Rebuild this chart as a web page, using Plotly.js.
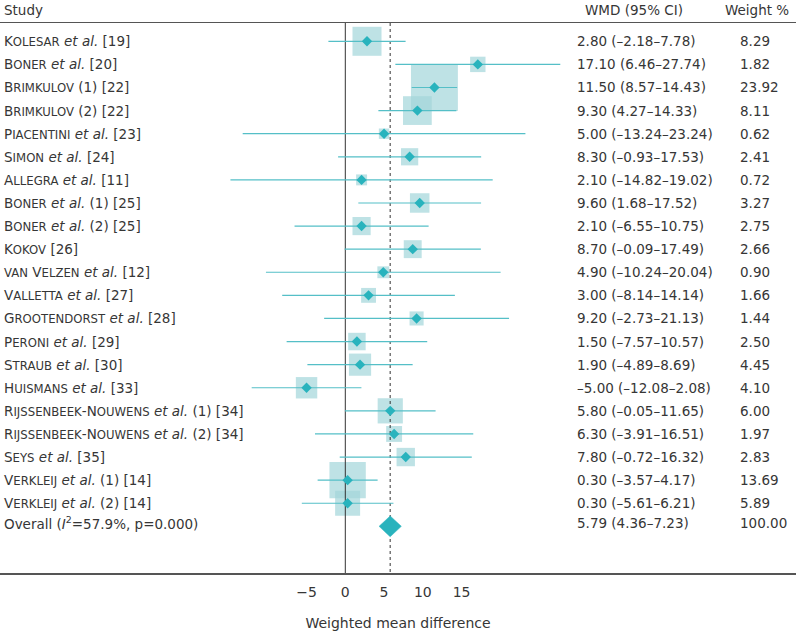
<!DOCTYPE html>
<html>
<head>
<meta charset="utf-8">
<script src="https://cdn.plot.ly/plotly-3.0.1.min.js"></script>
<style>html,body{margin:0;padding:0;background:#fff;}</style>
</head>
<body>
<div id="chart" style="width:796px;height:632px;"></div>
<script>
// ---- data ----
const authors = ["Kolesar","Boner","Brimkulov","Brimkulov","Piacentini","Simon","Allegra","Boner","Boner","Kokov","van Velzen","Valletta","Grootendorst","Peroni","Straub","Huismans","Rijssenbeek-Nouwens","Rijssenbeek-Nouwens","Seys","Verkleij","Verkleij"];
const etAl = [true,true,false,false,true,true,true,true,true,false,true,true,true,true,true,true,true,true,true,true,true];
const tails = [" [19]"," [20]"," (1) [22]"," (2) [22]"," [23]"," [24]"," [11]"," (1) [25]"," (2) [25]"," [26]"," [12]"," [27]"," [28]"," [29]"," [30]"," [33]"," (1) [34]"," (2) [34]"," [35]"," (1) [14]"," (2) [14]"];
const means = [2.80,17.10,11.50,9.30,5.00,8.30,2.10,9.60,2.10,8.70,4.90,3.00,9.20,1.50,1.90,-5.00,5.80,6.30,7.80,0.30,0.30];
const lower = [-2.18,6.46,8.57,4.27,-13.24,-0.93,-14.82,1.68,-6.55,-0.09,-10.24,-8.14,-2.73,-7.57,-4.89,-12.08,-0.05,-3.91,-0.72,-3.57,-5.61];
const upper = [7.78,27.74,14.43,14.33,23.24,17.53,19.02,17.52,10.75,17.49,20.04,14.14,21.13,10.57,8.69,2.08,11.65,16.51,16.32,4.17,6.21];
const weights = [8.29,1.82,23.92,8.11,0.62,2.41,0.72,3.27,2.75,2.66,0.90,1.66,1.44,2.50,4.45,4.10,6.00,1.97,2.83,13.69,5.89];
const overallMean = 5.79, overallLower = 4.36, overallUpper = 7.23, overallWeight = 100.00;
const overallI2 = "57.9", overallP = "0.000";
const xTicks = [-5,0,5,10,15];
const headers = ["Study","WMD (95% CI)","Weight %"];
const xTitle = "Weighted mean difference";

// ---- styling ----
const FONT = "DejaVu Sans";
const FS = 13.5;
const SMALL = 11.7;
const TXT = "#363636";
const SQ = "#a3d6da";
const LN = "#55bfc7";
const DM = "#29b3bd";

const n = means.length;
const rows = means.map((_, i) => i);
const overallRow = n;
const yTop = -0.792, yBot = 23.02;
const pxPerUnit = 7.75, zeroPx = 345.3, W = 796;
const xL = -zeroPx / pxPerUnit, xR = (W - zeroPx) / pxPerUnit;

function smallCaps(s) {
  let out = "";
  for (const ch of s) {
    if (ch >= "a" && ch <= "z") out += '<span style="font-size:' + SMALL + 'px">' + ch.toUpperCase() + '</span>';
    else out += ch;
  }
  return out;
}
const DASH = "\u2013";
const num = v => (v < 0 ? DASH : "") + Math.abs(v).toFixed(2);
const labels = authors.map((a, i) => smallCaps(a) + (etAl[i] ? " <i>et al.</i>" : "") + tails[i]);
const wmdText = means.map((m, i) => num(m) + " (" + num(lower[i]) + DASH + num(upper[i]) + ")");
const wText = weights.map(w => w.toFixed(2));

// CI segments
const ciX = [], ciY = [];
for (let i = 0; i < n; i++) { ciX.push(lower[i], upper[i], null); ciY.push(rows[i], rows[i], null); }

const traces = [
  { type: "scatter", mode: "markers", x: means, y: rows,
    marker: { symbol: "square", color: SQ, size: weights.map(w => 3.4 + 8.9 * Math.sqrt(w)), line: { width: 0 } },
    hoverinfo: "skip", cliponaxis: false },
  { type: "scatter", mode: "lines", x: [0, 0], y: [yTop, yBot], line: { color: "#333", width: 1 }, hoverinfo: "skip" },
  { type: "scatter", mode: "lines", x: [overallMean, overallMean], y: [yTop, yBot], line: { color: "#333", width: 1, dash: "dot" }, hoverinfo: "skip" },
  { type: "scatter", mode: "lines", x: ciX, y: ciY, line: { color: LN, width: 1.2 }, connectgaps: false, hoverinfo: "skip" },
  { type: "scatter", mode: "markers", x: means, y: rows,
    marker: { symbol: "diamond", color: DM, size: 8, line: { width: 0 } }, hoverinfo: "skip" },
  { type: "scatter", mode: "lines", fill: "toself", fillcolor: DM,
    x: [overallLower, overallMean, overallUpper, overallMean, overallLower],
    y: [overallRow, overallRow - 0.45, overallRow, overallRow + 0.45, overallRow],
    line: { color: DM, width: 0.5 }, hoverinfo: "skip" }
];

const ann = [];
const f = { family: FONT, size: FS, color: TXT };
labels.forEach((t, i) => ann.push({ xref: "paper", x: 2 / W, xanchor: "left", yref: "y", y: rows[i], yshift: 0, text: t, showarrow: false, font: f }));
ann.push({ xref: "paper", x: 2 / W, xanchor: "left", yref: "y", y: overallRow, yshift: 3, text: "Overall (<i>I</i><sup>2</sup>=" + overallI2 + "%, p=" + overallP + ")", showarrow: false, font: f });
wmdText.forEach((t, i) => ann.push({ xref: "paper", x: 575 / W, xanchor: "left", yref: "y", y: rows[i], yshift: 0, text: t, showarrow: false, font: f }));
ann.push({ xref: "paper", x: 575 / W, xanchor: "left", yref: "y", y: overallRow, yshift: 3, text: num(overallMean) + " (" + num(overallLower) + DASH + num(overallUpper) + ")", showarrow: false, font: f });
wText.forEach((t, i) => ann.push({ xref: "paper", x: 738 / W, xanchor: "left", yref: "y", y: rows[i], yshift: 0, text: t, showarrow: false, font: f }));
ann.push({ xref: "paper", x: 738 / W, xanchor: "left", yref: "y", y: overallRow, yshift: 3, text: overallWeight.toFixed(2), showarrow: false, font: f });
[2, 583, 723].forEach((px, k) => ann.push({ xref: "paper", x: px / W, xanchor: "left", yref: "paper", y: 1 + 13 / 550, yanchor: "middle", text: headers[k], showarrow: false, font: f }));

const layout = {
  width: 796, height: 632,
  margin: { l: 0, r: 0, t: 23, b: 59, pad: 0 },
  paper_bgcolor: "#fff", plot_bgcolor: "#fff",
  showlegend: false,
  font: { family: FONT, size: FS, color: TXT },
  xaxis: {
    range: [xL, xR], showgrid: false, zeroline: false,
    showline: true, mirror: true, linecolor: "#555", linewidth: 1.5,
    tickvals: xTicks, ticktext: xTicks.map(v => (v < 0 ? "\u2212" : "") + Math.abs(v)),
    ticks: "", ticklabelstandoff: 6, tickfont: { family: FONT, size: 14, color: TXT },
    title: { text: xTitle, font: { family: FONT, size: 14, color: TXT }, standoff: 19 },
    fixedrange: true
  },
  yaxis: { range: [yBot, yTop], visible: false, fixedrange: true },
  annotations: ann
};

Plotly.newPlot("chart", traces, layout, { displayModeBar: false, staticPlot: true });
</script>
</body>
</html>
